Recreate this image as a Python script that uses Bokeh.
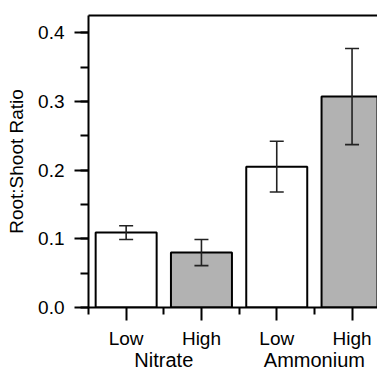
from bokeh.plotting import figure
from bokeh.models import (Range1d, LinearAxis, FixedTicker, SingleIntervalTicker,
                          Whisker, ColumnDataSource, TeeHead, NumeralTickFormatter)
from bokeh.embed import file_html
from bokeh.resources import INLINE

# ---- data ----
groups = ["Nitrate", "Ammonium"]
group_of = ["Nitrate", "Nitrate", "Ammonium", "Ammonium"]
levels = ["Low", "High", "Low", "High"]
ratio = [0.109, 0.080, 0.205, 0.307]
err = [0.010, 0.019, 0.037, 0.070]
fills = ["white", "#b2b2b2", "white", "#b2b2b2"]

FONT = "Liberation Sans"
FS = "19px"

x = list(range(1, len(levels) + 1))
upper = [r + e for r, e in zip(ratio, err)]
lower = [r - e for r, e in zip(ratio, err)]
src = ColumnDataSource(dict(x=x, top=ratio, upper=upper, lower=lower, fill=fills))

p = figure(width=377, height=373,
           x_range=Range1d(0.5, 4.338), y_range=Range1d(0, 0.425),
           output_backend="svg", toolbar_location=None,
           x_axis_location=None, y_axis_location=None,
           min_border_left=88, min_border_right=0, min_border_top=15, min_border_bottom=66)
p.grid.visible = False
p.outline_line_color = None
p.background_fill_color = "white"
p.border_fill_color = "white"

p.vbar(x="x", top="top", bottom=0, width=0.81, fill_color="fill",
       line_color="black", line_width=2, source=src)

wh = Whisker(base="x", upper="upper", lower="lower", source=src,
             line_color="#222222", line_width=1.6,
             upper_head=TeeHead(size=14, line_color="#222222", line_width=1.6),
             lower_head=TeeHead(size=14, line_color="#222222", line_width=1.6))
wh.level = "overlay"
p.add_layout(wh)

def style(ax):
    ax.axis_line_width = 2
    ax.axis_line_color = "black"
    ax.major_tick_line_width = 2
    ax.minor_tick_line_width = 2
    ax.major_tick_in = 0
    ax.minor_tick_in = 0
    ax.major_label_text_font = FONT
    ax.major_label_text_font_size = FS
    ax.major_label_text_color = "black"
    ax.axis_label_text_font = FONT
    ax.axis_label_text_font_size = FS
    ax.axis_label_text_font_style = "normal"
    ax.axis_label_text_color = "black"

# left axis
yaxis = LinearAxis(ticker=SingleIntervalTicker(interval=0.1, num_minor_ticks=2),
                   formatter=NumeralTickFormatter(format="0.0"),
                   axis_label="Root:Shoot Ratio")
style(yaxis)
yaxis.major_tick_out = 14
yaxis.minor_tick_out = 8
yaxis.major_label_standoff = 10
yaxis.axis_label_standoff = 8
p.add_layout(yaxis, "left")

# top border line
top = LinearAxis(ticker=FixedTicker(ticks=[]))
style(top)
top.major_tick_out = 0
top.minor_tick_out = 0
top.major_label_standoff = 0
p.add_layout(top, "above")

# bottom axis: levels
bounds = [i - 0.5 for i in x] + [x[-1] + 0.5]
xaxis = LinearAxis(ticker=FixedTicker(ticks=x, minor_ticks=bounds),
                   major_label_overrides={i: l for i, l in zip(x, levels)})
style(xaxis)
xaxis.major_tick_out = 13
xaxis.minor_tick_out = 7
xaxis.major_label_standoff = 7
p.add_layout(xaxis, "below")

# bottom axis: groups
centers = [sum(i for i, g in zip(x, group_of) if g == G) / group_of.count(G) for G in groups]
gaxis = LinearAxis(ticker=FixedTicker(ticks=centers, minor_ticks=[]),
                   major_label_overrides={c: g for c, g in zip(centers, groups)})
style(gaxis)
gaxis.major_label_text_font_size = "20px"
gaxis.axis_line_color = None
gaxis.major_tick_line_color = None
gaxis.major_tick_out = 0
gaxis.minor_tick_out = 0
gaxis.major_label_standoff = -3
p.add_layout(gaxis, "below")

open("out.html", "w").write(file_html(p, INLINE))
